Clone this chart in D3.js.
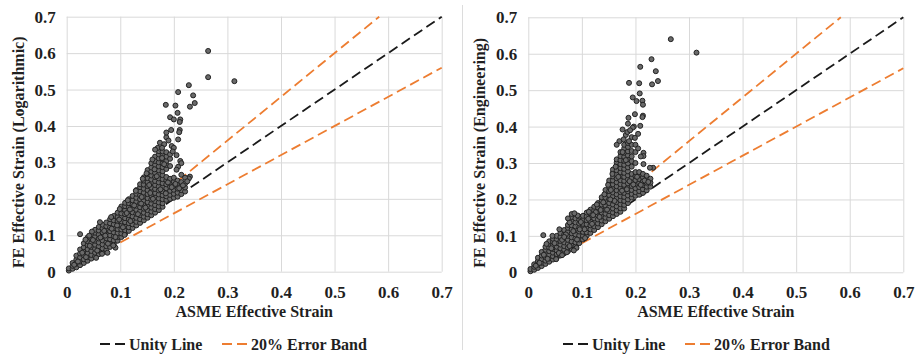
<!DOCTYPE html>
<html>
<head>
<meta charset="utf-8">
<script src="https://cdn.jsdelivr.net/npm/d3@7"></script>
<style>
  body { margin: 0; background: #fff; }
  svg { display: block; }
</style>
</head>
<body>
<svg id="chart" width="916" height="354"></svg>
<script>

var xTicks = [0, 0.1, 0.2, 0.3, 0.4, 0.5, 0.6, 0.7];
var yTicks = [0, 0.1, 0.2, 0.3, 0.4, 0.5, 0.6, 0.7];
var xTitle = 'ASME Effective Strain';
var yTitles = ['FE Effective Strain (Logarithmic)', 'FE Effective Strain (Engineering)'];
var legendLabels = ['Unity Line', '20% Error Band'];

// reference lines [x, y]
var unityLine = [[0, 0], [0.7, 0.7]];
var upperBand = [[0.1, 0.12], [0.5833, 0.7]];
var lowerBand = [[0.1, 0.08], [0.7, 0.56]];

// dense part of the cloud, one row per ASME strain: [x, FE y values...]
var logColumns = [
  [0.004, 0.003, 0.009],
  [0.011, 0.008, 0.016, 0.024],
  [0.018, 0.012, 0.022, 0.033, 0.044],
  [0.025, 0.018, 0.028, 0.039, 0.05, 0.061],
  [0.032, 0.024, 0.034, 0.045, 0.056, 0.067, 0.078],
  [0.039, 0.03, 0.04, 0.051, 0.062, 0.073, 0.084, 0.094],
  [0.046, 0.036, 0.046, 0.057, 0.068, 0.079, 0.09, 0.101],
  [0.053, 0.042, 0.052, 0.063, 0.074, 0.085, 0.096, 0.107, 0.115],
  [0.06, 0.048, 0.058, 0.069, 0.08, 0.091, 0.102, 0.113, 0.123],
  [0.067, 0.054, 0.064, 0.075, 0.086, 0.097, 0.108, 0.119, 0.129],
  [0.074, 0.06, 0.07, 0.081, 0.092, 0.103, 0.114, 0.125, 0.135],
  [0.081, 0.068, 0.078, 0.089, 0.1, 0.111, 0.122, 0.133, 0.144],
  [0.088, 0.076, 0.086, 0.097, 0.108, 0.119, 0.13, 0.141, 0.153],
  [0.095, 0.085, 0.095, 0.106, 0.117, 0.128, 0.139, 0.15, 0.162],
  [0.102, 0.095, 0.105, 0.116, 0.127, 0.138, 0.149, 0.16, 0.171, 0.179],
  [0.109, 0.104, 0.114, 0.125, 0.136, 0.147, 0.158, 0.169, 0.18, 0.189],
  [0.116, 0.112, 0.122, 0.133, 0.144, 0.155, 0.166, 0.177, 0.188, 0.199],
  [0.123, 0.12, 0.13, 0.141, 0.152, 0.163, 0.174, 0.185, 0.196, 0.208],
  [0.13, 0.127, 0.137, 0.148, 0.159, 0.17, 0.181, 0.192, 0.203, 0.214, 0.224],
  [0.137, 0.134, 0.144, 0.155, 0.166, 0.177, 0.188, 0.199, 0.21, 0.221, 0.232, 0.24],
  [0.144, 0.141, 0.151, 0.162, 0.173, 0.184, 0.195, 0.206, 0.217, 0.228, 0.239, 0.25, 0.259],
  [0.151, 0.148, 0.158, 0.169, 0.18, 0.191, 0.202, 0.213, 0.224, 0.235, 0.246, 0.257, 0.268, 0.279],
  [0.158, 0.155, 0.165, 0.176, 0.187, 0.198, 0.209, 0.22, 0.231, 0.242, 0.253, 0.264, 0.275, 0.286, 0.298],
  [0.165, 0.162, 0.172, 0.183, 0.194, 0.205, 0.216, 0.227, 0.238, 0.249, 0.26, 0.271, 0.282, 0.293, 0.304, 0.316],
  [0.172, 0.169, 0.179, 0.19, 0.201, 0.212, 0.223, 0.234, 0.245, 0.256, 0.267, 0.278, 0.289, 0.3, 0.311, 0.322, 0.331],
  [0.179, 0.178, 0.188, 0.199, 0.21, 0.221, 0.232, 0.243, 0.254, 0.265, 0.276, 0.287, 0.298, 0.309, 0.32, 0.33],
  [0.186, 0.197, 0.207, 0.218, 0.229, 0.24, 0.251, 0.26, 0.282, 0.293, 0.304, 0.316, 0.328],
  [0.193, 0.2, 0.211, 0.222, 0.233, 0.244, 0.255, 0.29, 0.31, 0.322],
  [0.2, 0.203, 0.214, 0.225, 0.236, 0.247, 0.258],
  [0.207, 0.206, 0.217, 0.228, 0.239, 0.25],
  [0.214, 0.213, 0.224, 0.235, 0.246],
  [0.221, 0.22, 0.231, 0.242]
];

// points lying between the rows and along the ragged edges
var logLoose = [
  [0.014, 0.019], [0.021, 0.028], [0.029, 0.052], [0.036, 0.04], [0.043, 0.071],
  [0.049, 0.087], [0.057, 0.058], [0.063, 0.094], [0.07, 0.112], [0.077, 0.077],
  [0.084, 0.118], [0.091, 0.095], [0.098, 0.143], [0.105, 0.122], [0.112, 0.161],
  [0.119, 0.139], [0.126, 0.182], [0.133, 0.158], [0.14, 0.205], [0.147, 0.176],
  [0.154, 0.238], [0.161, 0.2], [0.168, 0.262], [0.175, 0.226], [0.182, 0.295],
  [0.189, 0.245], [0.196, 0.232], [0.203, 0.241], [0.21, 0.229], [0.217, 0.237],
  [0.062, 0.136], [0.083, 0.15], [0.047, 0.11], [0.091, 0.066], [0.076, 0.052],
  [0.055, 0.038], [0.035, 0.088], [0.042, 0.099], [0.099, 0.172], [0.114, 0.196],
  [0.129, 0.222], [0.142, 0.255], [0.149, 0.27], [0.16, 0.308], [0.066, 0.049],
  [0.087, 0.072], [0.108, 0.101], [0.072, 0.099], [0.094, 0.127], [0.118, 0.171],
  [0.139, 0.187], [0.156, 0.216], [0.164, 0.281], [0.178, 0.312], [0.185, 0.215]
];

// sparse points above the cloud
var logScatter = [
  [0.025, 0.103], [0.174, 0.354], [0.186, 0.369], [0.186, 0.382], [0.195, 0.389],
  [0.211, 0.389], [0.21, 0.383], [0.208, 0.363], [0.193, 0.424], [0.2, 0.418],
  [0.212, 0.418], [0.211, 0.411], [0.207, 0.436], [0.185, 0.458], [0.203, 0.456],
  [0.208, 0.493], [0.228, 0.512], [0.236, 0.484], [0.239, 0.463], [0.23, 0.453],
  [0.264, 0.606], [0.264, 0.534], [0.313, 0.523], [0.212, 0.304], [0.214, 0.298],
  [0.208, 0.288], [0.205, 0.28], [0.23, 0.261], [0.228, 0.256], [0.214, 0.266],
  [0.196, 0.345], [0.182, 0.35], [0.19, 0.36], [0.2, 0.34], [0.198, 0.33],
  [0.205, 0.32], [0.17, 0.34], [0.165, 0.335], [0.178, 0.34], [0.221, 0.258],
  [0.225, 0.248]
];

var engColumns = [
  [0.004, 0.003, 0.009],
  [0.011, 0.007, 0.015, 0.022],
  [0.018, 0.012, 0.021, 0.031, 0.04],
  [0.025, 0.017, 0.026, 0.036, 0.046, 0.056],
  [0.032, 0.023, 0.032, 0.042, 0.052, 0.062, 0.07],
  [0.039, 0.029, 0.038, 0.048, 0.058, 0.068, 0.078, 0.085],
  [0.046, 0.035, 0.044, 0.054, 0.064, 0.074, 0.084, 0.092],
  [0.053, 0.04, 0.05, 0.06, 0.07, 0.08, 0.09, 0.1],
  [0.06, 0.046, 0.056, 0.066, 0.076, 0.086, 0.097, 0.108],
  [0.067, 0.052, 0.062, 0.072, 0.082, 0.093, 0.104, 0.116],
  [0.074, 0.058, 0.068, 0.078, 0.089, 0.1, 0.111, 0.122, 0.13],
  [0.081, 0.064, 0.074, 0.085, 0.096, 0.107, 0.118, 0.129, 0.14, 0.152, 0.16],
  [0.088, 0.072, 0.082, 0.093, 0.104, 0.115, 0.126, 0.137, 0.148],
  [0.095, 0.08, 0.09, 0.101, 0.112, 0.123, 0.134, 0.145, 0.153],
  [0.102, 0.09, 0.1, 0.111, 0.122, 0.133, 0.144, 0.155],
  [0.109, 0.1, 0.11, 0.121, 0.132, 0.143, 0.154, 0.164],
  [0.116, 0.108, 0.118, 0.129, 0.14, 0.151, 0.162, 0.172],
  [0.123, 0.116, 0.126, 0.137, 0.148, 0.159, 0.17, 0.18],
  [0.13, 0.124, 0.134, 0.145, 0.156, 0.167, 0.178, 0.19],
  [0.137, 0.132, 0.142, 0.153, 0.164, 0.175, 0.186, 0.197, 0.206],
  [0.144, 0.14, 0.15, 0.161, 0.172, 0.183, 0.194, 0.205, 0.216, 0.226],
  [0.151, 0.147, 0.157, 0.168, 0.179, 0.19, 0.201, 0.212, 0.223, 0.234, 0.245, 0.252],
  [0.158, 0.154, 0.164, 0.175, 0.186, 0.197, 0.208, 0.219, 0.23, 0.241, 0.252, 0.263, 0.274, 0.282],
  [0.165, 0.16, 0.17, 0.181, 0.192, 0.203, 0.214, 0.225, 0.236, 0.247, 0.258, 0.269, 0.28, 0.291, 0.302, 0.31],
  [0.172, 0.166, 0.176, 0.187, 0.198, 0.209, 0.22, 0.231, 0.242, 0.253, 0.264, 0.275, 0.286, 0.297, 0.308, 0.319, 0.33],
  [0.179, 0.175, 0.185, 0.196, 0.207, 0.218, 0.229, 0.24, 0.251, 0.262, 0.273, 0.284, 0.295, 0.306, 0.317, 0.328, 0.34, 0.35],
  [0.186, 0.19, 0.2, 0.211, 0.222, 0.233, 0.244, 0.255, 0.266, 0.277, 0.288, 0.299, 0.31, 0.321, 0.332, 0.344, 0.355],
  [0.193, 0.205, 0.215, 0.226, 0.237, 0.248, 0.259, 0.27, 0.29, 0.305, 0.318, 0.333, 0.35],
  [0.2, 0.21, 0.22, 0.231, 0.242, 0.253, 0.264, 0.275, 0.3, 0.33],
  [0.207, 0.213, 0.223, 0.234, 0.245, 0.256, 0.267, 0.275],
  [0.214, 0.218, 0.228, 0.239, 0.25, 0.261, 0.27],
  [0.221, 0.225, 0.235, 0.246, 0.257, 0.265],
  [0.228, 0.235, 0.246, 0.257]
];

var engLoose = [
  [0.014, 0.018], [0.021, 0.026], [0.029, 0.048], [0.036, 0.037], [0.043, 0.066],
  [0.049, 0.08], [0.057, 0.053], [0.063, 0.089], [0.07, 0.104], [0.077, 0.072],
  [0.084, 0.113], [0.091, 0.09], [0.098, 0.138], [0.105, 0.118], [0.112, 0.147],
  [0.119, 0.133], [0.126, 0.165], [0.133, 0.152], [0.14, 0.192], [0.147, 0.172],
  [0.154, 0.226], [0.161, 0.196], [0.168, 0.262], [0.175, 0.224], [0.182, 0.308],
  [0.189, 0.25], [0.196, 0.241], [0.203, 0.262], [0.21, 0.24], [0.217, 0.252],
  [0.224, 0.248], [0.058, 0.118], [0.077, 0.137], [0.045, 0.1], [0.09, 0.067],
  [0.072, 0.055], [0.052, 0.036], [0.034, 0.078], [0.092, 0.156], [0.113, 0.166],
  [0.128, 0.186], [0.142, 0.214], [0.149, 0.24], [0.157, 0.27], [0.063, 0.047],
  [0.085, 0.06], [0.106, 0.094], [0.067, 0.097], [0.096, 0.118], [0.121, 0.157],
  [0.135, 0.171], [0.153, 0.2], [0.163, 0.29], [0.176, 0.33], [0.184, 0.228],
  [0.074, 0.148], [0.086, 0.162]
];

var engScatter = [
  [0.028, 0.102], [0.266, 0.64], [0.314, 0.603], [0.23, 0.585], [0.209, 0.564],
  [0.238, 0.552], [0.242, 0.525], [0.231, 0.516], [0.188, 0.52], [0.207, 0.519],
  [0.208, 0.491], [0.195, 0.48], [0.202, 0.47], [0.213, 0.471], [0.214, 0.46],
  [0.199, 0.434], [0.214, 0.43], [0.213, 0.426], [0.187, 0.424], [0.186, 0.408],
  [0.209, 0.402], [0.197, 0.4], [0.195, 0.397], [0.176, 0.392], [0.182, 0.377],
  [0.193, 0.371], [0.199, 0.369], [0.215, 0.328], [0.215, 0.319], [0.21, 0.318],
  [0.233, 0.287], [0.227, 0.287], [0.215, 0.297], [0.17, 0.36], [0.178, 0.365],
  [0.188, 0.36], [0.165, 0.35], [0.2, 0.35], [0.205, 0.34], [0.185, 0.385],
  [0.19, 0.39], [0.205, 0.38]
];

var width = 375;
var height = 255;
var serif = "'Liberation Serif', 'Times New Roman', serif";
var svg = d3.select('#chart');

// thin divider between the two panels
svg.append('line')
  .attr('x1', 462.5).attr('x2', 462.5)
  .attr('y1', 5).attr('y2', 350)
  .attr('stroke', '#dcdcdc').attr('stroke-width', 1);

function toPoints(columns, loose, scatter) {
  var pts = [];
  columns.forEach(function(c) {
    c.slice(1).forEach(function(v) { pts.push([c[0], v]); });
  });
  return pts.concat(loose, scatter);
}

function label(sel, size) {
  return sel.style('font-family', serif).style('font-weight', 'bold')
    .style('font-size', (size || 16) + 'px').style('fill', '#1f1f1f');
}

function drawPanel(left, top, columns, loose, scatter, yTitle, legendX) {
  var xScale = d3.scaleLinear().domain([0, 0.7]).range([0, width]);
  var yScale = d3.scaleLinear().domain([0, 0.7]).range([height, 0]);
  var fmt = function(d) { return d === 0 ? '0' : d3.format('.1f')(d); };

  var g = svg.append('g').attr('transform', 'translate(' + left + ',' + top + ')');

  // gridlines + tick labels
  var xAxis = g.append('g')
    .attr('transform', 'translate(0,' + height + ')')
    .call(d3.axisBottom(xScale).tickValues(xTicks).tickSize(-height).tickPadding(14).tickFormat(fmt));
  var yAxis = g.append('g')
    .call(d3.axisLeft(yScale).tickValues(yTicks).tickSize(-width).tickPadding(11).tickFormat(fmt));
  [xAxis, yAxis].forEach(function(a) {
    a.select('.domain').remove();
    a.selectAll('line').attr('stroke', '#d9d9d9').attr('stroke-width', 1);
    label(a.selectAll('text'), 17);
  });

  var lineGen = d3.line()
    .x(function(d) { return xScale(d[0]); })
    .y(function(d) { return yScale(d[1]); });

  g.append('path').datum(unityLine)
    .attr('d', lineGen).attr('fill', 'none')
    .attr('stroke', '#1a1a1a').attr('stroke-width', 1.8).attr('stroke-dasharray', '10,5');
  [upperBand, lowerBand].forEach(function(b) {
    g.append('path').datum(b)
      .attr('d', lineGen).attr('fill', 'none')
      .attr('stroke', '#ed7d31').attr('stroke-width', 1.8).attr('stroke-dasharray', '10,5');
  });

  g.append('g').selectAll('circle')
    .data(toPoints(columns, loose, scatter))
    .enter().append('circle')
    .attr('cx', function(d) { return xScale(d[0]); })
    .attr('cy', function(d) { return yScale(d[1]); })
    .attr('r', 2.5)
    .attr('fill', '#6a6a6a')
    .attr('stroke', '#222')
    .attr('stroke-width', 1);

  // axis titles
  label(g.append('text'))
    .attr('x', width / 2).attr('y', height + 45)
    .attr('text-anchor', 'middle')
    .text(xTitle);
  label(g.append('text'))
    .attr('transform', 'translate(-43,' + (height / 2 + 8) + ') rotate(-90)')
    .attr('text-anchor', 'middle')
    .text(yTitle);

  // legend
  var lg = svg.append('g').attr('transform', 'translate(' + legendX + ',344)');
  var swatch = [['#1a1a1a', 0], ['#ed7d31', 122]];
  swatch.forEach(function(s, i) {
    lg.append('line')
      .attr('x1', s[1]).attr('x2', s[1] + 27)
      .attr('stroke', s[0]).attr('stroke-width', 1.8).attr('stroke-dasharray', '10,5');
    label(lg.append('text'))
      .attr('x', s[1] + 29).attr('y', 6)
      .text(legendLabels[i]);
  });
}

drawPanel(66.7, 16.7, logColumns, logLoose, logScatter, yTitles[0], 100);
drawPanel(528.3, 17.3, engColumns, engLoose, engScatter, yTitles[1], 563);

</script>
</body>
</html>
